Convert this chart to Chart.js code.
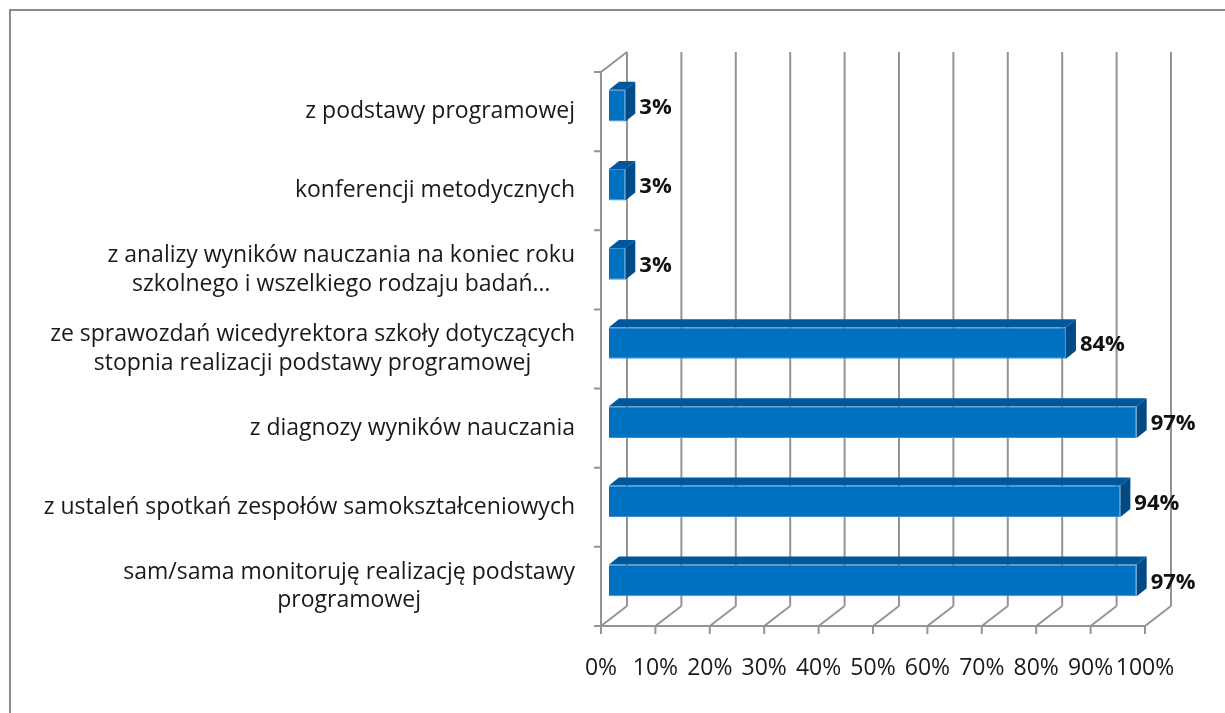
<!DOCTYPE html>
<html lang="pl">
<head>
  <meta charset="UTF-8" />
  <title>Monitorowanie realizacji podstawy programowej</title>
  <script src="https://cdn.jsdelivr.net/npm/chart.js"></script>
  <style>
    html, body { margin: 0; padding: 0; background: #fff; }
    #wrap { width: 1225px; height: 713px; }
  </style>
</head>
<body>
  <div id="wrap"><canvas id="chart" width="1225" height="713"></canvas></div>

  <script>
    // top to bottom, as in the chart
    const categories = [
      ["z podstawy programowej"],
      ["konferencji metodycznych"],
      ["z analizy wyników nauczania na koniec roku", "szkolnego i wszelkiego rodzaju badań…"],
      ["ze sprawozdań wicedyrektora szkoły dotyczących", "stopnia realizacji podstawy programowej"],
      ["z diagnozy wyników nauczania"],
      ["z ustaleń spotkań zespołów samokształceniowych"],
      ["sam/sama monitoruję realizację podstawy", "programowej"]
    ];
    const values = [3, 3, 3, 84, 97, 94, 97];
    const xTicks = [0, 10, 20, 30, 40, 50, 60, 70, 80, 90, 100];

    const FONT = "'Open Sans', Lato, sans-serif";
    const GRID = "#949494";
    const DEPTH = { x: 26, y: -20 };   // floor depth of the 3D box
    const BAR_OFF = { x: 8, y: -6 };   // bar front face inside the box
    const BAR_D = { x: 10, y: -8 };    // bar thickness in depth

    const box3d = {
      id: "box3d",
      beforeDraw(chart) {
        const { ctx, chartArea: a } = chart;
        const xs = chart.scales.x;
        ctx.save();
        ctx.fillStyle = "#fff";
        ctx.fillRect(0, 0, chart.width, chart.height);

        // outer frame
        ctx.strokeStyle = "#8a8a8a";
        ctx.lineWidth = 2;
        ctx.beginPath();
        ctx.moveTo(10, chart.height);
        ctx.lineTo(10, 10);
        ctx.lineTo(chart.width, 10);
        ctx.stroke();

        ctx.strokeStyle = GRID;
        ctx.lineWidth = 2;
        ctx.beginPath();
        xTicks.forEach(v => {
          const px = xs.getPixelForValue(v);
          // back wall line
          ctx.moveTo(px + DEPTH.x, a.top + DEPTH.y);
          ctx.lineTo(px + DEPTH.x, a.bottom + DEPTH.y);
          // floor line
          ctx.moveTo(px, a.bottom);
          ctx.lineTo(px + DEPTH.x, a.bottom + DEPTH.y);
          // tick
          ctx.moveTo(px, a.bottom);
          ctx.lineTo(px, a.bottom + 8);
        });
        // front axis
        ctx.moveTo(a.left - 7, a.bottom);
        ctx.lineTo(a.right, a.bottom);
        // left wall
        ctx.moveTo(a.left, a.top);
        ctx.lineTo(a.left, a.bottom);
        ctx.moveTo(a.left, a.top);
        ctx.lineTo(a.left + DEPTH.x, a.top + DEPTH.y);
        // category ticks
        const band = (a.bottom - a.top) / categories.length;
        for (let i = 0; i < categories.length; i++) {
          const y = a.top + i * band;
          ctx.moveTo(a.left - 7, y);
          ctx.lineTo(a.left, y);
        }
        ctx.stroke();

        // category labels: centred lines, block right-aligned
        const ys = chart.scales.y;
        ctx.font = "23px " + FONT;
        ctx.fillStyle = "#1a1a1a";
        ctx.textAlign = "center";
        ctx.textBaseline = "middle";
        const lh = 28.5;
        categories.forEach((lines, i) => {
          const cy = ys.getPixelForValue(i);
          const w = Math.max(...lines.map(l => ctx.measureText(l).width));
          const cx = a.left - 26 - w / 2;
          lines.forEach((l, j) => {
            ctx.fillText(l, cx, cy + (j - (lines.length - 1) / 2) * lh);
          });
        });
        ctx.restore();
      },
      beforeDatasetsDraw(chart) {
        chart.ctx.save();
        chart.ctx.translate(BAR_OFF.x, BAR_OFF.y);
      },
      afterDatasetsDraw(chart) {
        const ctx = chart.ctx;
        const meta = chart.getDatasetMeta(0);
        meta.data.forEach((bar, i) => {
          const { x, y, base, height } = bar.getProps(["x", "y", "base", "height"], true);
          const t = y - height / 2, b = y + height / 2;
          // top face
          ctx.fillStyle = "#00579b";
          ctx.beginPath();
          ctx.moveTo(base, t);
          ctx.lineTo(base + BAR_D.x, t + BAR_D.y);
          ctx.lineTo(x + BAR_D.x, t + BAR_D.y);
          ctx.lineTo(x, t);
          ctx.closePath();
          ctx.fill();
          // side face
          ctx.fillStyle = "#004b86";
          ctx.beginPath();
          ctx.moveTo(x, t);
          ctx.lineTo(x + BAR_D.x, t + BAR_D.y);
          ctx.lineTo(x + BAR_D.x, b + BAR_D.y);
          ctx.lineTo(x, b);
          ctx.closePath();
          ctx.fill();
          // value label
          ctx.font = "bold 22px " + FONT;
          ctx.fillStyle = "#111";
          ctx.textAlign = "left";
          ctx.textBaseline = "middle";
          ctx.fillText(values[i] + "%", x + BAR_D.x + 4, y + 2);
        });
        ctx.restore();
      }
    };

    new Chart(document.getElementById("chart"), {
      type: "bar",
      data: {
        labels: categories,
        datasets: [{
          data: values,
          backgroundColor: "#0070c0",
          borderColor: "#3d8fd3",
          borderWidth: 1,
          barPercentage: 0.4,
          categoryPercentage: 1
        }]
      },
      options: {
        indexAxis: "y",
        responsive: false,
        animation: false,
        layout: { padding: { top: 72, right: 80, left: 0, bottom: 0 } },
        plugins: { legend: { display: false }, tooltip: { enabled: false } },
        scales: {
          x: {
            min: 0,
            max: 100,
            grid: { display: false, drawTicks: false },
            border: { display: false },
            afterFit(scale) { scale.height = 713 - 626; },
            afterBuildTicks(scale) { scale.ticks = xTicks.map(v => ({ value: v })); },
            ticks: {
              autoSkip: false,
              maxRotation: 0,
              padding: 29,
              color: "#1a1a1a",
              font: { family: FONT, size: 23 },
              callback: v => v + "%"
            }
          },
          y: {
            grid: { display: false, drawTicks: false },
            border: { display: false },
            ticks: { display: false },
            afterFit(scale) { scale.width = 601; }
          }
        }
      },
      plugins: [box3d]
    });
  </script>
</body>
</html>
